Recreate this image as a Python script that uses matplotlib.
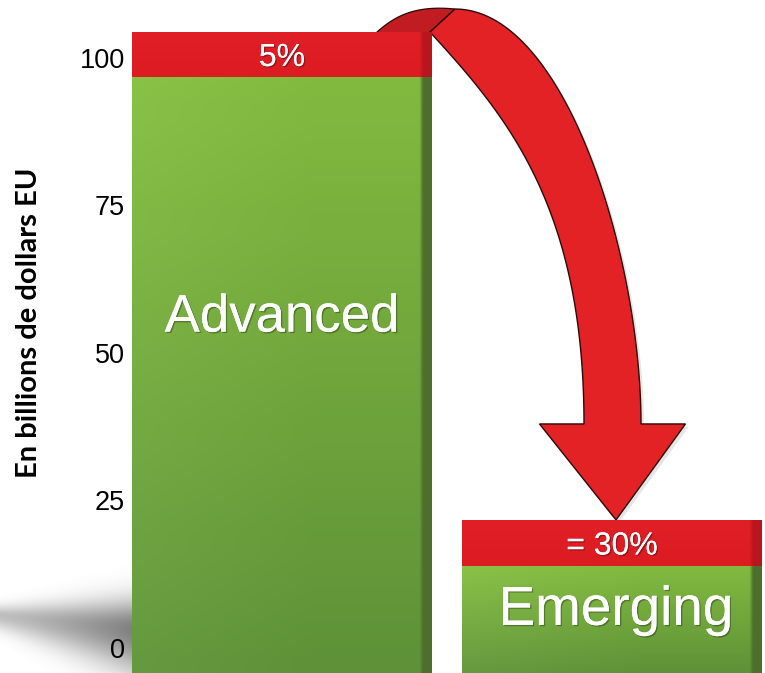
import numpy as np
import matplotlib.pyplot as plt
from matplotlib.patches import Polygon
import matplotlib.patheffects as pe

# values in billions of US dollars
categories = ['Advanced', 'Emerging']
green_top = [96.8, 13.9]
red_top = [104.4, 21.7]
share_labels = ['5%', '= 30%']
ytick_values = [0, 25, 50, 75, 100]
ytick_labels = ['0', '25', '50', '75', '100']
ylabel = 'En billions de dollars EU'

W, H, DPI = 765, 673, 100
base = -4.2
bar_width = 0.909
x_pos = np.arange(len(categories))

fig = plt.figure(figsize=(W / DPI, H / DPI), dpi=DPI)

# soft floor shadow to the left of the first bar
sw, shh = 135, 120
sh_ax = fig.add_axes([0, 0, sw / W, shh / H])
sh_ax.axis('off')
yy, xx = np.mgrid[0:shh, 0:sw]
fx = xx / (sw - 1.0)
yc = 62 + 14 * fx
half = 14 + 28 * fx
d = (yy - yc) / half
# sharper upper edge, softer lower edge
prof = np.where(d < 0, np.exp(-2.0 * d ** 2), np.exp(-1.0 * d ** 2))
alpha = (0.36 + 0.36 * fx ** 1.3) * prof
shadow = np.zeros((shh, sw, 4))
shadow[..., :3] = 0.30
shadow[..., 3] = alpha
sh_ax.imshow(shadow, extent=(0, sw, shh, 0), aspect='auto', interpolation='bilinear')
sh_ax.set_xlim(0, sw)
sh_ax.set_ylim(shh, 0)

ax = fig.add_axes([132 / W, 0, (W - 132) / W, 1])
ax.patch.set_alpha(0)
xlim = (-0.4545, 1.4636)
ylim = (base - 0.04, 109.83)
for s in ax.spines.values():
    s.set_visible(False)
ax.set_xticks([])
ax.set_yticks(ytick_values, labels=ytick_labels)
ax.tick_params(axis='y', length=0, pad=5, labelsize=19.5)
for lab in ax.get_yticklabels():
    lab.set_fontfamily('Liberation Sans')
ax.set_ylabel(ylabel, fontsize=21, fontweight='bold', family='Lato', va='center')
ax.yaxis.set_label_coords(-0.163, 0.52)


def shaded(c_top, c_bottom, c_side, glow, n=200):
    # vertical gradient with a darker strip on the right hand side
    t = np.linspace(0, 1, n)[:, None, None]
    img = np.array(c_top)[None, None, :] * (1 - t) + np.array(c_bottom)[None, None, :] * t
    img = np.repeat(img, n, axis=1)
    u = np.linspace(0, 1, n)
    hl = np.clip(1 - u / 0.6, 0, 1)[None, :, None] * glow
    img = img + hl
    side = np.clip((u - 0.962) / 0.01, 0, 1)[None, :, None]
    img = img * (1 - side) + np.array(c_side)[None, None, :] * side
    return np.clip(img, 0, 1)


green_img = shaded((0.51, 0.73, 0.25), (0.37, 0.57, 0.22), (0.30, 0.44, 0.17), 0.03)
red_img = shaded((0.88, 0.12, 0.15), (0.86, 0.11, 0.13), (0.72, 0.09, 0.11), 0.0)

for i in range(len(categories)):
    g = ax.bar(x_pos[i], green_top[i] - base, bottom=base, width=bar_width,
               color='#6a9e3b', zorder=2)[0]
    r = ax.bar(x_pos[i], red_top[i] - green_top[i], bottom=green_top[i], width=bar_width,
               color='#e01f26', zorder=2)[0]
    x0, x1 = x_pos[i] - bar_width / 2, x_pos[i] + bar_width / 2
    im = ax.imshow(green_img, extent=(x0, x1, base, green_top[i]), aspect='auto',
                   zorder=2.1, interpolation='bilinear')
    im.set_clip_path(g)
    im = ax.imshow(red_img, extent=(x0, x1, green_top[i], red_top[i]), aspect='auto',
                   zorder=2.1, interpolation='bilinear')
    im.set_clip_path(r)

ax.set_xlim(*xlim)
ax.set_ylim(*ylim)

shadow_fx = [pe.withSimplePatchShadow(offset=(1, -1), shadow_rgbFace='k', alpha=0.3), pe.Normal()]
for i in range(len(categories)):
    ax.text(x_pos[i], (green_top[i] + red_top[i]) / 2 - 0.6, share_labels[i], color='white',
            fontsize=23, ha='center', va='center', family='Liberation Sans', zorder=3,
            path_effects=shadow_fx)
ax.text(x_pos[0], 56.0, categories[0], color='white', fontsize=38, ha='center', va='center',
        family='Liberation Sans', zorder=3, path_effects=shadow_fx)
ax.text(x_pos[1] + 0.012, 6.3, categories[1], color='white', fontsize=39.5, ha='center',
        va='center', family='Liberation Sans', zorder=3, path_effects=shadow_fx)


def cubic(a, b, c, e, n=120):
    s = np.linspace(0, 1, n)[:, None]
    return (1 - s) ** 3 * a + 3 * (1 - s) ** 2 * s * b + 3 * (1 - s) * s ** 2 * c + s ** 3 * e


# curved ribbon arrow from the top corner of the first bar down onto the second
fig.canvas.draw()
to_px = ax.transData.transform
corner = to_px((x_pos[0] + bar_width / 2, red_top[0]))
tip = to_px((x_pos[1], red_top[1])) + np.array([4, 0])
head_len, head_half = 96, 73

out0 = corner + np.array([23, 23])
out3 = tip + np.array([25, head_len])
outer = cubic(out0, out0 + np.array([110, 0]), out3 + np.array([0, 167]), out3)

in0 = corner + np.array([-2, 0])
in3 = tip + np.array([-32, head_len])
inner = cubic(in0, in0 + np.array([74, -81]), in3 + np.array([0, 220]), in3)

mid = (out3 + in3) / 2
head = np.array([[mid[0] + head_half, mid[1]], tip, [mid[0] - head_half, mid[1]]])
front = np.vstack([outer, head, inner[::-1]])

# back side of the ribbon rising from behind the first bar
b0 = corner + np.array([-55, 0])
back_top = cubic(b0, b0 + np.array([18, 16]), out0 + np.array([-40, 4]), out0, 40)
back = np.vstack([back_top, in0, in0 + np.array([0, -12]), b0 + np.array([0, -12])])

ax.add_patch(Polygon(back, closed=True, transform=None, facecolor='#c01c22',
                     edgecolor='#2a0a0a', lw=0.9, zorder=1.5))
ax.add_patch(Polygon(front + np.array([3, -3]), closed=True, transform=None,
                     facecolor='#000000', alpha=0.10, lw=0, zorder=1.4))
ax.add_patch(Polygon(front, closed=True, transform=None, facecolor='#e32226',
                     edgecolor='#2a0a0a', lw=1.0, zorder=1.6))

fig.savefig('out.png', dpi=DPI)
